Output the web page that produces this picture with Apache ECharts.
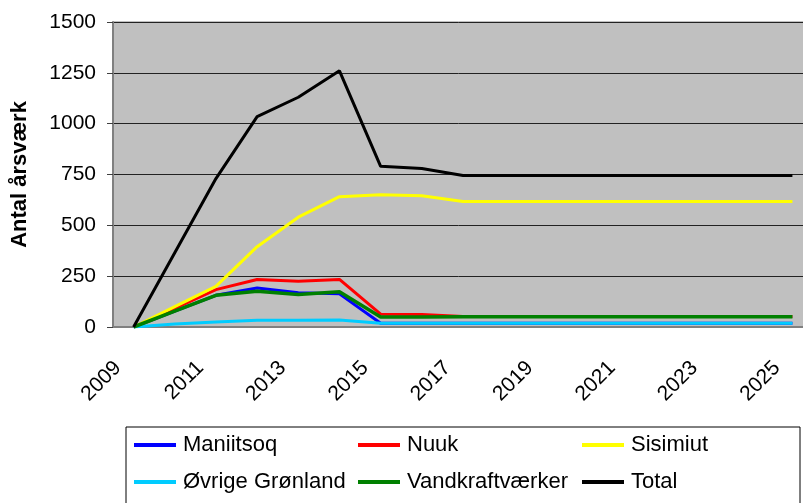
<!DOCTYPE html>
<html>
<head>
<meta charset="utf-8">
<script src="https://cdn.jsdelivr.net/npm/echarts@6/dist/echarts.min.js"></script>
<style>html,body{margin:0;padding:0;background:#fff;}#c{width:803px;height:503px;}</style>
</head>
<body>
<div id="c"></div>
<script>
const years = ['2009','2010','2011','2012','2013','2014','2015','2016','2017','2018','2019','2020','2021','2022','2023','2024','2025'];
const maniitsoq = [0, 78, 156, 192, 168, 163, 18, 18, 18, 18, 18, 18, 18, 18, 18, 18, 18];
const nuuk = [0, 92, 184, 234, 225, 234, 63, 61, 52, 52, 52, 52, 52, 52, 52, 52, 52];
const sisimiut = [0, 100, 200, 395, 540, 641, 650, 645, 617, 617, 617, 617, 617, 617, 617, 617, 617];
const ovrige = [0, 15, 25, 33, 33, 35, 18, 18, 18, 18, 18, 18, 18, 18, 18, 18, 18];
const vandkraft = [0, 78, 156, 176, 160, 173, 49, 49, 50, 50, 50, 50, 50, 50, 50, 50, 50];
const total = [0, 365, 730, 1035, 1130, 1260, 790, 780, 745, 745, 745, 745, 745, 745, 745, 745, 745];
const yTicks = [0, 250, 500, 750, 1000, 1250, 1500];

const names = ['Maniitsoq','Nuuk','Sisimiut','Øvrige Grønland','Vandkraftværker','Total'];
const values = [maniitsoq, nuuk, sisimiut, ovrige, vandkraft, total];
const colors = ['#0000FF','#FF0000','#FFFF00','#00CCFF','#008000','#000000'];

const FONT = 'Liberation Sans, Arial, sans-serif';
const legendPos = [
  {left: 134, top: 434}, {left: 358, top: 434}, {left: 582, top: 434},
  {left: 134, top: 471}, {left: 358, top: 471}, {left: 582, top: 471}
];

const chart = echarts.init(document.getElementById('c'), null, {renderer: 'canvas'});
chart.setOption({
  animation: false,
  backgroundColor: '#ffffff',
  grid: {left: 113, top: 22, right: -10, bottom: 176, show: true, backgroundColor: '#C0C0C0', borderColor: '#808080', borderWidth: 1, containLabel: false, outerBoundsMode: 'none'},
  graphic: [{type: 'rect', shape: {x: 126, y: 427, width: 674, height: 90}, style: {fill: 'none', stroke: '#000', lineWidth: 1}, silent: true}],
  legend: names.map((n, i) => ({
    data: [n], left: legendPos[i].left, top: legendPos[i].top,
    icon: 'rect', itemWidth: 42, itemHeight: 4, itemGap: 0, padding: 0,
    textStyle: {fontFamily: FONT, fontSize: 22, color: '#000', padding: [0,0,0,2]},
    selectedMode: false
  })),
  xAxis: {
    type: 'category', data: years, boundaryGap: true,
    axisLine: {lineStyle: {color: '#808080', width: 2}},
    axisTick: {interval: 0, length: 6, lineStyle: {color: '#404040'}},
    axisLabel: {interval: 1, rotate: 45, margin: 22, padding: [0, 22, 0, 0], fontFamily: FONT, fontSize: 21, color: '#000'},
    splitLine: {show: false}
  },
  yAxis: {
    type: 'value', min: yTicks[0], max: yTicks[yTicks.length-1], interval: yTicks[1]-yTicks[0],
    name: 'Antal årsværk', nameLocation: 'middle', nameRotate: 90, nameGap: 82,
    nameTextStyle: {fontFamily: FONT, fontSize: 22, fontWeight: 'bold', color: '#000'},
    axisLine: {show: true, lineStyle: {color: '#808080', width: 2}},
    axisTick: {show: true, length: 6, lineStyle: {color: '#404040'}},
    axisLabel: {margin: 17, fontFamily: FONT, fontSize: 21, color: '#000', formatter: v => String(v)},
    splitLine: {lineStyle: {color: '#222', width: 1}}
  },
  series: names.map((n, i) => ({
    name: n, type: 'line', data: values[i], showSymbol: false, symbol: 'none',
    lineStyle: {color: colors[i], width: i === 4 ? 3.5 : 3}, itemStyle: {color: colors[i]},
    z: 2 + i
  }))
});
</script>
</body>
</html>
